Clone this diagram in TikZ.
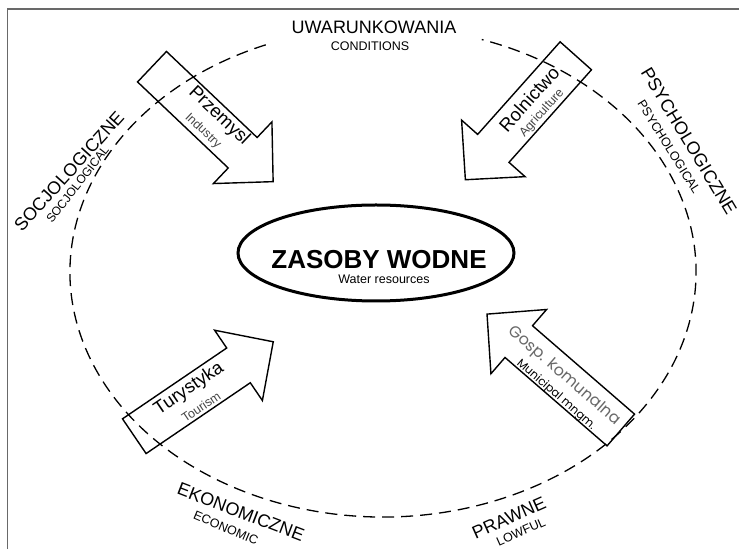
\documentclass[tikz,border=0pt]{standalone}
\usepackage{fontspec}
\setmainfont{Liberation Sans}
\newfontfamily\geofont{Poppins}
\usetikzlibrary{shapes,shapes.misc}
\definecolor{ramkakolor}{RGB}{105,105,105}
\definecolor{szary}{RGB}{70,70,70}
\definecolor{jasny}{RGB}{105,105,105}

\begin{document}
\begin{tikzpicture}[x=1pt,y=1pt,
	  every node/.append style={inner sep=0pt},
	  blok/.style={draw=black,line width=1.4pt,line join=miter},
	  ramka/.style={draw=ramkakolor,line width=1.6pt},
	  przerywana/.style={draw=black,line width=1.3pt,dash pattern=on 12pt off 7pt},
	  pics/strzalka/.style={code={
	    \draw[blok] (0,21) -- (#1-42,21) -- (#1-42,42.5) -- (#1,0) -- (#1-42,-42.5) -- (#1-42,-21) -- (0,-21) -- cycle;}}]
	  \tikzstyle{duzy} = [font=\fontsize{18}{20}\selectfont]
	  \tikzstyle{maly} = [font=\fontsize{12.5}{14}\selectfont]
	  \tikzstyle{wnapis} = [font=\fontsize{18.5}{20}\selectfont]
	  \tikzstyle{wpod} = [font=\fontsize{12.5}{14}\selectfont,color=szary]
	  \useasboundingbox (0,0) rectangle (739,549);
	  \draw[ramka] (7.5,0) -- (7.5,540) -- (739,540);
	  \coordinate (srodek) at (383,277);
	  \draw[przerywana] ([shift={(112:313 and 245)}]srodek) arc[start angle=112,end angle=431.6,x radius=313,y radius=245];
	  \node (zasoby) [ellipse,draw,line width=3pt,minimum width=276pt,minimum height=96pt] at (376,296) {};
	  \node (tytul) [font=\bfseries\fontsize{26}{30}\selectfont] at (379,289) {ZASOBY WODNE};
	  \node (podtytul) [font=\fontsize{12.5}{14}\selectfont] at (384,270) {Water resources};
	  \pic[rotate=-43.5] at (152,482.3) {strzalka=167};
	  \pic[rotate=228.3] at (575.8,493.2) {strzalka=166};
	  \pic[rotate=139.1] at (620.8,119) {strzalka=177};
	  \pic[rotate=34.2] at (134.3,112.8) {strzalka=168};
	  \node (przemysl) [wnapis,rotate=-43.5] at (219,433) {Przemysl};
	  \node (industry) [wpod,rotate=-43.5] at (203,418) {Industry};
	  \node (rolnictwo) [wnapis,rotate=48.3] at (529,450) {Rolnictwo};
	  \node (agriculture) [wpod,rotate=48.3] at (542,436) {Agriculture};
	  \node (gosp) [font=\geofont\fontsize{16}{18}\selectfont,color=jasny,rotate=-40.9] at (564,173) {Gosp. komunalna};
	  \node (municipal) [font=\geofont\fontsize{11.5}{13}\selectfont,rotate=-40.9] at (556,154) {Municipal mngm.};
	  \node (turystyka) [wnapis,rotate=34.2] at (189,160) {Turystyka};
	  \node (tourism) [wpod,rotate=34.2] at (201,142) {Tourism};
	  \node (uwar) [duzy] at (374,522) {UWARUNKOWANIA};
	  \node (cond) [maly] at (370,503) {CONDITIONS};
	  \node (socj) [duzy,rotate=48] at (69,377.5) {SOCJOLOGICZNE};
	  \node (socjen) [font=\fontsize{12}{14}\selectfont,rotate=52] at (77.5,364.5) {SOCJOLOGICAL};
	  \node (psych) [duzy,rotate=-59] at (689,408) {PSYCHOLOGICZNE};
	  \node (psychen) [maly,rotate=-58] at (669,402) {PSYCHOLOGICAL};
	  \node (ekon) [duzy,rotate=-21] at (241,37) {EKONOMICZNE};
	  \node (ekonen) [maly,rotate=-23] at (226,21) {ECONOMIC};
	  \node (prawne) [duzy,rotate=24] at (509,31) {PRAWNE};
	  \node (prawneen) [maly,rotate=24] at (521,17) {LOWFUL};
	\end{tikzpicture}
\end{document}
